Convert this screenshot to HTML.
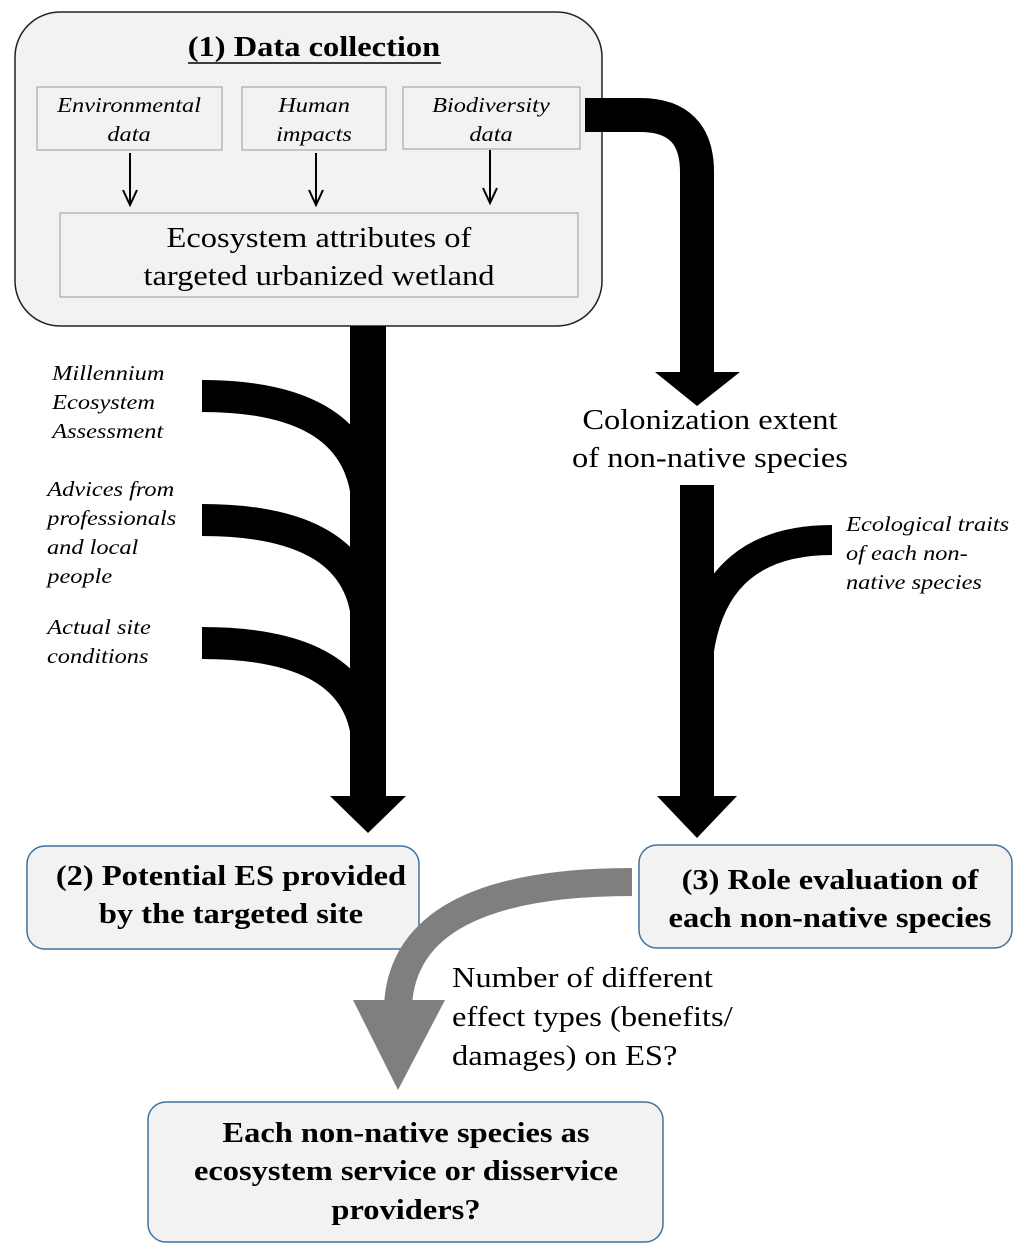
<!DOCTYPE html>
<html><head><meta charset="utf-8"><style>
body{margin:0;background:#fff}
svg{display:block}
text{font-family:"Liberation Serif",serif;transform-box:fill-box;transform:scaleX(1.16)}
text[text-anchor="middle"]{transform-origin:center}
text.l{transform-origin:left}
.it{font-style:italic;font-size:21px}
.b{font-weight:bold;font-size:28px}
.n{font-size:28px}
</style></head><body>
<svg width="1024" height="1255" viewBox="0 0 1024 1255">
<rect x="15" y="12" width="587" height="314" rx="45" fill="#f2f2f2" stroke="#222" stroke-width="1.5"/>
<text x="314" y="56" text-anchor="middle" class="b">(1) Data collection</text>
<line x1="188" y1="63" x2="441" y2="63" stroke="#000" stroke-width="1.5"/>
<rect x="37" y="87" width="185" height="63" fill="#f2f2f2" stroke="#999"/>
<rect x="242" y="87" width="144" height="63" fill="#f2f2f2" stroke="#999"/>
<rect x="403" y="87" width="177" height="62" fill="#f2f2f2" stroke="#999"/>
<text x="129" y="112" text-anchor="middle" class="it">Environmental</text>
<text x="129" y="141" text-anchor="middle" class="it">data</text>
<text x="314" y="112" text-anchor="middle" class="it">Human</text>
<text x="314" y="141" text-anchor="middle" class="it">impacts</text>
<text x="491" y="112" text-anchor="middle" class="it">Biodiversity</text>
<text x="491" y="141" text-anchor="middle" class="it">data</text>
<g stroke="#000" stroke-width="2">
<line x1="130" y1="153" x2="130" y2="204"/><path d="M123,190 L130,205 L137,190" fill="none"/>
<line x1="316" y1="153" x2="316" y2="204"/><path d="M309,190 L316,205 L323,190" fill="none"/>
<line x1="490" y1="150" x2="490" y2="202"/><path d="M483,188 L490,203 L497,188" fill="none"/>
</g>
<rect x="60" y="213" width="518" height="84" fill="#f2f2f2" stroke="#999"/>
<text x="319" y="247" text-anchor="middle" class="n">Ecosystem attributes of</text>
<text x="319" y="285" text-anchor="middle" class="n">targeted urbanized wetland</text>

<rect x="350" y="326" width="36" height="472" fill="#000"/>
<polygon points="330,796 406,796 368,833" fill="#000"/>
<g fill="none" stroke="#000" stroke-width="32">
<path d="M202,396 Q350,396 366,490"/>
<path d="M202,520 Q350,520 366,610"/>
<path d="M202,643 Q350,643 366,730"/>
</g>
<text class="it l" x="52" y="380">Millennium</text>
<text class="it l" x="52" y="409">Ecosystem</text>
<text class="it l" x="52" y="438">Assessment</text>
<text class="it l" x="47" y="496">Advices from</text>
<text class="it l" x="47" y="525">professionals</text>
<text class="it l" x="47" y="554">and local</text>
<text class="it l" x="47" y="583">people</text>
<text class="it l" x="47" y="634">Actual site</text>
<text class="it l" x="47" y="663">conditions</text>

<path d="M585,115 L640,115 Q697,115 697,172 L697,374" fill="none" stroke="#000" stroke-width="34"/>
<polygon points="655,372 740,372 697,406" fill="#000"/>
<text x="710" y="429" text-anchor="middle" class="n">Colonization extent</text>
<text x="710" y="467" text-anchor="middle" class="n">of non-native species</text>
<rect x="680" y="485" width="34" height="313" fill="#000"/>
<polygon points="657,796 737,796 697,838" fill="#000"/>
<path d="M832,540 Q716,540 699,650" fill="none" stroke="#000" stroke-width="30"/>
<text class="it l" x="846" y="531">Ecological traits</text>
<text class="it l" x="846" y="560">of each non-</text>
<text class="it l" x="846" y="589">native species</text>

<rect x="27" y="846" width="392" height="103" rx="18" fill="#f2f2f2" stroke="#41719c" stroke-width="1.5"/>
<text x="231" y="885" text-anchor="middle" class="b">(2) Potential ES provided</text>
<text x="231" y="923" text-anchor="middle" class="b">by the targeted site</text>
<rect x="639" y="845" width="373" height="103" rx="18" fill="#f2f2f2" stroke="#41719c" stroke-width="1.5"/>
<text x="830" y="889" text-anchor="middle" class="b">(3) Role evaluation of</text>
<text x="830" y="927" text-anchor="middle" class="b">each non-native species</text>

<path d="M632,882 Q405,882 398,1005" fill="none" stroke="#7f7f7f" stroke-width="28"/>
<polygon points="353,1000 445,1000 398,1090" fill="#7f7f7f"/>
<text class="n l" x="452" y="987">Number of different</text>
<text class="n l" x="452" y="1026">effect types (benefits/</text>
<text class="n l" x="452" y="1065">damages) on ES?</text>

<rect x="148" y="1102" width="515" height="140" rx="18" fill="#f2f2f2" stroke="#41719c" stroke-width="1.5"/>
<text x="406" y="1142" text-anchor="middle" class="b">Each non-native species as</text>
<text x="406" y="1180" text-anchor="middle" class="b">ecosystem service or disservice</text>
<text x="406" y="1219" text-anchor="middle" class="b">providers?</text>
</svg>
</body></html>
